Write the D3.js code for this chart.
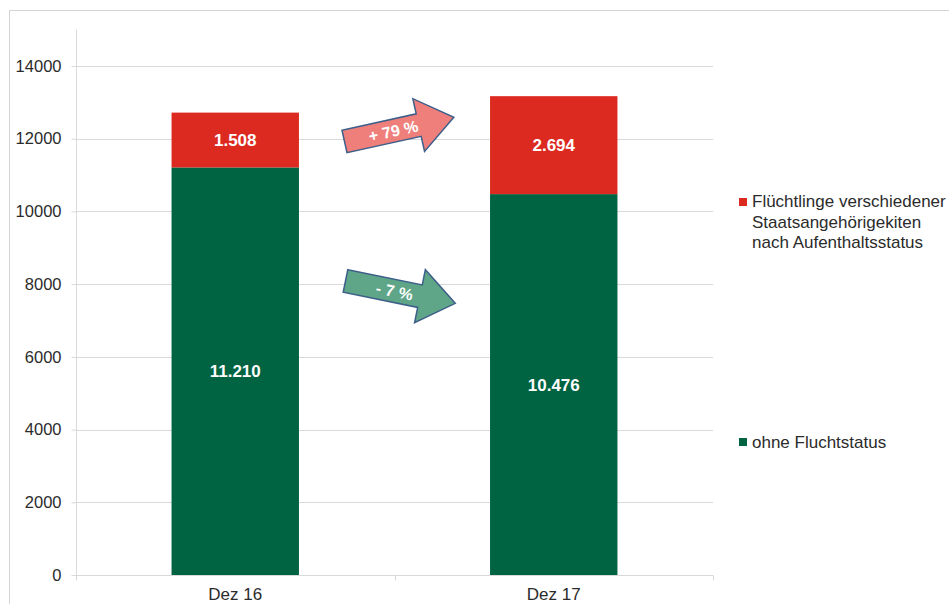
<!DOCTYPE html>
<html><head><meta charset="utf-8">
<script src="https://cdn.jsdelivr.net/npm/d3@7"></script>
<style>body{margin:0;background:#fff}svg{display:block;font-family:"Liberation Sans",Arial,sans-serif}</style>
</head><body><svg id="c" width="949" height="604"></svg>
<script>
const categories = ["Dez 16", "Dez 17"];
const ohneFlucht = [11210, 10476];
const fluechtlinge = [1508, 2694];
const seriesNames = ["Flüchtlinge verschiedener Staatsangehörigekiten nach Aufenthaltsstatus", "ohne Fluchtstatus"];
const yTicks = [0, 2000, 4000, 6000, 8000, 10000, 12000, 14000];
const changeLabels = ["+ 79 %", "- 7 %"];
const valueLabels = [["11.210", "10.476"], ["1.508", "2.694"]];

const svg = d3.select("#c");
const green = "#006341", red = "#dc2a20";
const txt = "#2b2b2b";
const x0 = 76, x1 = 713, yBottom = 575;
const y = d3.scaleLinear().domain([0, 15000]).range([yBottom, yBottom - 15000 * 509 / 14000]);
const x = d3.scaleBand().domain(categories).range([x0, x1]).paddingInner(0.6).paddingOuter(0.3);

// outer frame
svg.append("rect").attr("x", 9.5).attr("y", 10.5).attr("width", 960).attr("height", 620)
  .attr("fill", "none").attr("stroke", "#d4d4d4");

// gridlines
svg.append("g").selectAll("line").data(yTicks.filter(d => d > 0)).join("line")
  .attr("x1", x0).attr("x2", x1).attr("y1", d => Math.round(y(d)) + 0.5).attr("y2", d => Math.round(y(d)) + 0.5)
  .attr("stroke", "#d9d9d9");

// y axis
const ya = svg.append("g").attr("transform", `translate(${x0 + 0.5},0)`)
  .call(d3.axisLeft(y).tickValues(yTicks).tickSize(5).tickPadding(10).tickFormat(d3.format("d")));
ya.select(".domain").attr("d", `M0,${y(15000)}V${yBottom}`).attr("stroke", "#d9d9d9");
ya.selectAll(".tick line").attr("stroke", "#d9d9d9");
ya.selectAll(".tick text").attr("font-size", 16.5).attr("fill", txt).attr("font-family", "Liberation Sans, Arial, sans-serif");

// x axis
const xa = svg.append("g").attr("transform", `translate(0,${yBottom + 0.5})`);
xa.append("line").attr("x1", x0).attr("x2", x1).attr("stroke", "#d9d9d9");
xa.selectAll(".sep").data([x0, (x0 + x1) / 2, x1]).join("line").attr("class", "sep")
  .attr("x1", d => Math.round(d) + 0.5).attr("x2", d => Math.round(d) + 0.5).attr("y1", 0).attr("y2", 5).attr("stroke", "#d9d9d9");
xa.selectAll("text").data(categories).join("text")
  .attr("x", d => x(d) + x.bandwidth() / 2).attr("y", 24).attr("text-anchor", "middle")
  .attr("font-size", 17).attr("fill", txt).text(d => d);

// stacked bars
const rows = categories.map((c, i) => ({ cat: c, ohne: ohneFlucht[i], fl: fluechtlinge[i] }));
const stack = d3.stack().keys(["ohne", "fl"])(rows);
const colors = [green, red];
stack.forEach((s, si) => {
  const g = svg.append("g");
  g.selectAll("rect").data(s).join("rect")
    .attr("x", d => x(d.data.cat)).attr("width", x.bandwidth())
    .attr("y", d => y(d[1])).attr("height", d => y(d[0]) - y(d[1]))
    .attr("fill", colors[si]);
  g.selectAll("text").data(s).join("text")
    .attr("x", d => x(d.data.cat) + x.bandwidth() / 2)
    .attr("y", d => y((d[0] + d[1]) / 2) + 6)
    .attr("text-anchor", "middle").attr("font-size", 17).attr("font-weight", "bold").attr("fill", "#fff")
    .text((d, i) => valueLabels[si][i]);
});

// arrows
function arrow(cx, cy, angle, fill, label) {
  const L = 112, sw = 11.5, hl = 36, hw = 27;
  const pts = [[0, -sw], [L - hl, -sw], [L - hl, -hw], [L, 0], [L - hl, hw], [L - hl, sw], [0, sw]];
  const g = svg.append("g").attr("transform", `translate(${cx},${cy}) rotate(${angle})`);
  g.append("path").attr("d", d3.line()(pts) + "Z").attr("fill", fill).attr("stroke", "#3e5f8a").attr("stroke-width", 1.5);
  g.append("text").attr("x", 50).attr("y", 6).attr("text-anchor", "middle").attr("font-size", 16)
    .attr("font-weight", "bold").attr("fill", "#fff").text(label);
}
arrow(344.5, 141.5, -12.5, "#ef7f7b", changeLabels[0]);
arrow(345.5, 281, 11.5, "#5ea687", changeLabels[1]);

// legend
const leg = svg.append("g").attr("font-size", 17).attr("fill", txt);
leg.append("rect").attr("x", 739).attr("y", 198).attr("width", 8).attr("height", 8).attr("fill", red);
const t1 = leg.append("text").attr("x", 752).attr("y", 207);
["Flüchtlinge verschiedener", "Staatsangehörigekiten", "nach Aufenthaltsstatus"].forEach((s, i) =>
  t1.append("tspan").attr("x", 752).attr("dy", i ? 20.5 : 0).text(s));
leg.append("rect").attr("x", 739).attr("y", 438).attr("width", 8).attr("height", 8).attr("fill", green);
leg.append("text").attr("x", 752).attr("y", 448).text(seriesNames[1]);
</script></body></html>
